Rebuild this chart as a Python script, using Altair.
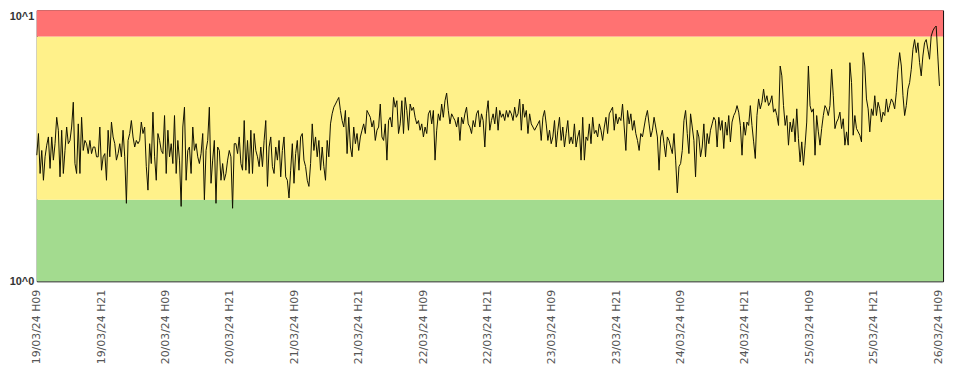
import altair as alt
import pandas as pd

# ---- data ----
seg_a = [
    2.92, 3.51, 2.50, 3.04, 2.36, 2.88, 3.18, 3.41, 2.61, 3.41, 2.80, 3.22,
    4.03, 3.61, 2.43, 3.61, 2.50, 3.04, 3.71, 3.22, 3.31, 3.71, 4.58, 2.72,
    2.50, 3.81, 2.50, 4.03, 3.04, 3.31, 3.22, 2.96, 3.31, 2.96, 3.13, 3.13,
    2.88, 2.88, 3.71, 2.57, 2.88, 2.96, 2.36, 3.61, 2.88, 3.87, 3.41, 3.22,
    2.80, 2.96, 3.22, 2.88, 3.61, 2.88, 1.94, 3.31, 3.51, 3.92,
    3.41, 3.13, 3.31, 3.22, 3.31, 3.87, 3.51, 3.71, 2.65, 2.17,
    3.22, 2.72, 4.21, 2.88, 2.36, 3.51, 3.31, 3.04, 2.96, 4.09,
    2.50, 3.61, 2.88, 3.22, 2.72, 4.09, 2.50, 3.31, 2.80, 1.89,
    3.71, 4.39, 2.36, 3.04, 3.13, 2.50, 3.71, 3.04, 3.22, 2.88, 2.72,
    2.96, 3.51, 2.00, 3.04, 3.31, 4.39, 2.30, 2.80, 3.31, 1.94, 3.13,
    3.04, 2.36, 2.72, 2.36, 2.50, 2.80, 3.04, 2.88, 1.86, 3.22,
    3.22, 2.96, 3.41, 2.72, 2.57, 3.92, 2.57, 3.31, 2.50, 3.61,
    2.50, 3.51, 3.04, 2.88, 2.65, 3.13,
]
seg_b = [
    2.65, 3.31, 3.92, 2.24, 3.13, 3.41, 2.65, 2.50, 3.13, 2.80,
    3.31, 2.43, 3.04, 3.41, 2.43, 2.36, 2.03, 2.57, 3.22, 2.30,
    2.96, 3.31, 2.57, 3.41, 3.51, 2.80, 2.65, 2.36, 2.24, 2.72,
    3.81, 3.04, 3.41, 2.88, 3.31, 2.57, 3.13, 2.65, 2.36, 3.31,
    2.88, 3.81, 4.15, 4.39, 4.51, 4.64, 4.77, 4.27, 3.92, 3.71,
    4.27, 2.96, 4.03, 3.13, 2.88, 3.71, 3.22, 3.51, 3.04, 3.41,
    3.61, 3.81, 3.51, 4.27, 4.15, 4.03, 3.71, 3.92, 3.31, 3.61,
    3.71, 4.51, 3.41, 3.31, 3.81, 2.80, 3.92, 4.03, 3.71, 4.77,
    4.39, 4.64, 3.51, 3.81, 4.64, 3.51, 4.77, 4.27, 3.61, 4.51,
    4.27, 4.39, 4.03, 3.81, 3.92, 3.61, 3.81, 3.41, 3.71, 3.51,
    4.15, 4.27, 3.81, 4.27, 2.80, 3.61, 4.15, 3.92, 4.51, 4.03,
    4.64, 4.95, 4.27, 3.81, 4.15, 4.03, 3.92, 3.71, 4.03, 3.31,
    4.03, 3.81, 4.15, 4.39, 3.81, 3.71, 3.51, 3.92, 3.71, 4.15,
    4.27, 3.71, 4.15, 3.92, 3.13, 4.15, 4.64, 3.61, 3.92,
]
seg_c = [
    4.15, 3.81, 4.39, 3.61, 4.27, 4.03, 4.15, 3.92, 4.27, 4.03,
    4.27, 4.15, 3.92, 4.39, 4.03, 4.15, 4.70, 3.61, 4.51, 4.03,
    4.27, 3.51, 4.15, 3.81, 3.71, 3.61, 3.71, 3.81, 3.92, 3.31,
    4.03, 4.27, 3.81, 3.31, 3.61, 3.22, 3.41, 3.92, 3.13, 3.61,
    4.03, 3.31, 3.71, 3.13, 3.51, 3.92, 3.22, 3.41, 3.22, 3.81,
    3.13, 3.41, 3.61, 2.80, 4.03, 2.80, 3.41, 3.31, 3.81, 3.22,
    4.03, 3.51, 3.61, 3.41, 3.81, 3.61, 3.31, 3.71, 4.03, 3.51,
    4.15, 4.27, 4.39, 3.61, 4.15, 3.81, 4.03, 3.92, 4.51, 3.71,
    3.04, 4.27, 3.81, 4.15, 3.61, 3.92, 3.51, 3.31, 3.04, 3.51,
    3.41, 3.71, 4.03, 4.27, 3.81, 3.41, 3.61, 4.03, 3.71, 3.41,
    2.57, 3.41, 3.61, 3.22, 2.88, 3.41, 3.31, 3.13, 2.96, 3.51,
    2.80, 2.12, 2.65, 2.72, 3.04, 3.92, 4.27, 3.51, 2.96, 4.15,
    3.71, 3.31, 2.43, 3.61, 3.41, 2.88, 3.13, 3.81, 2.88, 3.51,
    3.22, 3.61, 3.81, 4.03, 3.92, 3.13, 4.03, 3.61, 3.92,
]
seg_d = [
    3.09, 3.87, 3.46, 4.09, 3.27, 3.87, 4.09, 4.21, 4.45, 4.21,
    3.76, 2.92, 3.87, 3.46, 3.87, 3.76, 4.45, 3.76, 3.27, 2.84,
    4.09, 4.71, 4.33, 4.58, 5.12, 4.58, 4.84, 4.45, 4.58, 4.84,
    4.21, 4.33, 4.09, 3.76, 6.23, 5.73, 4.45, 3.76, 4.09, 3.18,
    3.87, 3.56, 3.98, 3.27, 4.33, 3.36, 2.76, 3.27, 2.68, 3.18,
    3.87, 6.23, 4.45, 4.21, 4.33, 2.92, 4.09, 3.56, 3.18, 3.66,
    4.09, 4.45, 4.33, 4.09, 4.45, 6.06, 4.84, 3.66, 3.87, 3.98,
    4.21, 3.66, 3.98, 3.18, 3.56, 3.18, 6.41, 5.41, 3.46, 4.09,
    3.66, 3.56, 3.46, 3.27, 6.98, 6.23, 4.71, 4.33, 3.56, 4.33,
    4.09, 4.84, 4.09, 4.58, 4.33, 3.87, 4.21, 4.09, 4.71, 4.21,
    4.45, 4.71, 4.58, 4.33, 4.98, 6.06, 6.98, 6.23, 4.84, 4.09,
    4.45, 5.12, 5.41, 6.06, 7.18, 7.80, 6.98, 7.59, 6.41, 5.73,
    6.78, 7.59, 7.80, 7.18, 6.60, 8.03, 8.40, 8.62, 8.75, 6.78,
    5.26,
]
values = seg_a + seg_b + seg_c + seg_d

band_low = [1, 2, 8]
band_high = [2, 8, 10]
band_names = ["good", "medium", "bad"]
band_colors = ["#a3db8f", "#fff18a", "#ff7272"]

start = "2024-03-19 09:00"
last_point = "2024-03-26 09:15"
times = pd.date_range(start, last_point, periods=len(values)).strftime("%Y-%m-%dT%H:%M:%S")
df = pd.DataFrame({"t": times, "v": values})

bands = pd.DataFrame({
    "t0": ["2024-03-19T09:00:00"] * 3,
    "t1": ["2024-03-26T09:55:00"] * 3,
    "low": band_low,
    "high": band_high,
    "name": band_names,
})

tick_vals = [
    alt.DateTime(year=d.year, month=d.month, date=d.day, hours=d.hour)
    for d in pd.date_range("2024-03-19 09:00", "2024-03-26 09:00", freq="12h")
]
x_domain = [
    alt.DateTime(year=2024, month=3, date=19, hours=9),
    alt.DateTime(year=2024, month=3, date=26, hours=9, minutes=55),
]
x_scale = alt.Scale(domain=x_domain)
y_scale = alt.Scale(type="log", domain=[1, 10])

x_axis = alt.Axis(
    values=tick_vals, format="%d/%m/%y H%H", labelAngle=270, ticks=False,
    domain=False, grid=False, labelFont="DejaVu Sans", labelFontSize=11,
    labelColor="#555555", labelPadding=8, title=None, labelOverlap=False,
)
y_axis = alt.Axis(
    values=[1, 10], labelExpr="datum.value == 1 ? '10^0' : '10^1'", ticks=False,
    domain=False, grid=False, labelFont="Liberation Sans", labelFontSize=11,
    labelFontWeight="bold", labelColor="#333333", labelPadding=3, title=None,
    labelBaseline={"condition": {"test": "datum.value == 10", "value": "top"}, "value": "middle"},
)

band_layer = alt.Chart(bands).mark_rect().encode(
    x=alt.X("t0:T", scale=x_scale, axis=x_axis),
    x2="t1:T",
    y=alt.Y("low:Q", scale=y_scale, axis=y_axis),
    y2="high:Q",
    color=alt.Color("name:N", scale=alt.Scale(domain=band_names, range=band_colors), legend=None),
)

line_layer = alt.Chart(df).mark_line(color="#111100", strokeWidth=1).encode(
    x=alt.X("t:T", scale=x_scale),
    y=alt.Y("v:Q", scale=y_scale),
)

chart = alt.layer(band_layer, line_layer).properties(
    width=913, height=273,
    padding={"left": 29, "top": 1, "right": 8, "bottom": 88},
    autosize=alt.AutoSizeParams(type="none"),
).configure_view(stroke="black", strokeWidth=1)

chart.save("out.html", embed_options={"renderer": "svg", "actions": False})
